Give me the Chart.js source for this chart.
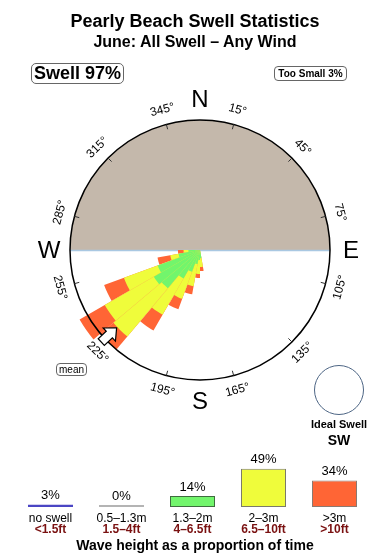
<!DOCTYPE html>
<html>
<head>
<meta charset="utf-8">
<script src="https://cdn.jsdelivr.net/npm/chart.js@4.4.1/dist/chart.umd.min.js"></script>
<style>
  body { margin: 0; background: #fff; font-family: "Liberation Sans", Arial, Helvetica, sans-serif; }
  #page { position: relative; width: 390px; height: 560px; overflow: hidden; }
  canvas { position: absolute; left: 0; }
  .txt { position: absolute; left: 0; width: 390px; text-align: center; font-weight: bold; color: #000; white-space: nowrap; }
  .box { position: absolute; box-sizing: border-box; border: 1px solid #666; border-radius: 5px; text-align: center; white-space: nowrap; color: #000; }
</style>
</head>
<body>
<div id="page">
  <canvas id="rose" width="390" height="440" style="top:0"></canvas>
  <canvas id="heights" width="390" height="120" style="top:440px"></canvas>

  <div class="txt" style="top:10px;font-size:18px;line-height:22px">Pearly Beach Swell Statistics</div>
  <div class="txt" style="top:32px;font-size:16px;line-height:20px">June: All Swell – Any Wind</div>
  <div class="box" style="left:31px;top:63px;width:93px;height:21px;font-size:18px;font-weight:bold;line-height:19px">Swell 97%</div>
  <div class="box" style="left:274px;top:66px;width:73px;height:15px;font-size:10px;font-weight:bold;line-height:13px;border-radius:4px">Too Small 3%</div>
  <div class="box" style="left:56px;top:363px;width:31px;height:13px;font-size:10px;line-height:11px;border-radius:4px">mean</div>
  <div style="position:absolute;left:314px;top:365px;width:50px;height:50px;box-sizing:border-box;border:1.3px solid #4d6584;border-radius:50%"></div>
  <div class="txt" style="left:289px;width:100px;top:417px;font-size:11px;line-height:14px">Ideal Swell</div>
  <div class="txt" style="left:289px;width:100px;top:431px;font-size:14px;line-height:18px">SW</div>
  <div class="txt" style="top:536px;font-size:14px;line-height:18px">Wave height as a proportion of time</div>
</div>

<script>
// 10 degree direction bins, clockwise from north
const binCentres = [5, 15, 25, 35, 45, 55, 65, 75, 85, 95, 105, 115, 125, 135, 145, 155, 165, 175,
  185, 195, 205, 215, 225, 235, 245, 255, 265, 275, 285, 295, 305, 315, 325, 335, 345, 355];

// only these bins carry swell (% of time per height band)
const sectorDirs = [175, 185, 195, 205, 215, 225, 235, 245, 255, 265];
const green  = [0.1, 0.15, 0.3, 0.8, 1.6, 3.7, 4.2, 3.0, 0.7, 0.2];     // 1.3-2m
const yellow = [0.33, 0.7, 1.7, 3.2, 6.7, 15.2, 13.7, 6.7, 0.65, 0.2];  // 2-3m
const orange = [0.22, 0.31, 1.0, 1.9, 4.5, 6.1, 10.7, 5.7, 1.4, 0.32];  // >3m

const meanDir = 227;
const degreeTicks = [15, 45, 75, 105, 135, 165, 195, 225, 255, 285, 315, 345];
const compass = [['N', 0], ['E', 90], ['S', 180], ['W', 270]];

// bottom legend
const legendPct = [3, 0, 14, 49, 34];
const legendMetric = ['no swell', '0.5–1.3m', '1.3–2m', '2–3m', '>3m'];
const legendFeet = ['<1.5ft', '1.5–4ft', '4–6.5ft', '6.5–10ft', '>10ft'];

const FONT = '"Liberation Sans", Arial, Helvetica, sans-serif';

// area-true rose: radius grows with the square root of the percentage
class SqrtRadialScale extends Chart.RadialLinearScale {
  getDistanceFromCenterForValue(value) {
    if (value === null || value === undefined) return NaN;
    const frac = Math.max(0, value - this.min) / (this.max - this.min);
    return this.drawingArea * Math.sqrt(frac);
  }
}
SqrtRadialScale.id = 'sqrtRadial';
Chart.register(SqrtRadialScale);

function onBins(values) {
  return binCentres.map(d => {
    const k = sectorDirs.indexOf(d);
    return k < 0 ? 0 : values[k];
  });
}
const cumGreen = green;
const cumYellow = green.map((g, i) => g + yellow[i]);
const cumOrange = cumYellow.map((y, i) => y + orange[i]);

function polar(s, bearing, r) {
  const a = (bearing - 90) * Math.PI / 180;
  return [s.xCenter + r * Math.cos(a), s.yCenter + r * Math.sin(a)];
}

const roseFrame = {
  id: 'roseFrame',
  beforeDatasetsDraw(chart) {
    const s = chart.scales.r, ctx = chart.ctx;
    const R = s.getDistanceFromCenterForValue(s.max);
    ctx.save();
    ctx.fillStyle = '#c4b8ab';
    ctx.beginPath();
    ctx.arc(s.xCenter, s.yCenter, R, Math.PI, 2 * Math.PI);
    ctx.closePath();
    ctx.fill();
    ctx.strokeStyle = '#a9c8e2';
    ctx.lineWidth = 1.5;
    ctx.beginPath();
    ctx.moveTo(s.xCenter - R, s.yCenter + 0.5);
    ctx.lineTo(s.xCenter + R, s.yCenter + 0.5);
    ctx.stroke();
    ctx.restore();
  },
  afterDatasetsDraw(chart) {
    const s = chart.scales.r, ctx = chart.ctx;
    const R = s.getDistanceFromCenterForValue(s.max);
    ctx.save();
    // outline
    ctx.strokeStyle = '#000';
    ctx.lineWidth = 1.5;
    ctx.beginPath();
    ctx.arc(s.xCenter, s.yCenter, R, 0, 2 * Math.PI);
    ctx.stroke();

    // degree ticks + labels
    ctx.lineWidth = 1;
    ctx.strokeStyle = '#333';
    ctx.fillStyle = '#000';
    ctx.font = '12px ' + FONT;
    ctx.textAlign = 'center';
    ctx.textBaseline = 'middle';
    degreeTicks.forEach(b => {
      const [x1, y1] = polar(s, b, R - 5);
      const [x2, y2] = polar(s, b, R);
      ctx.beginPath(); ctx.moveTo(x1, y1); ctx.lineTo(x2, y2); ctx.stroke();
      const [lx, ly] = polar(s, b, R + 15);
      let rot = (b > 90 && b < 270) ? b - 180 : b;
      if (rot > 180) rot -= 360;
      ctx.save();
      ctx.translate(lx, ly);
      ctx.rotate(rot * Math.PI / 180);
      ctx.fillText(b + '°', 0, 0);
      ctx.restore();
    });

    // compass letters
    ctx.font = '24px ' + FONT;
    compass.forEach(([t, b]) => {
      const [x, y] = polar(s, b, R + 21);
      ctx.fillText(t, x, y + 1);
    });

    // mean direction arrow, pointing inward
    const th = meanDir * Math.PI / 180;
    const d = [Math.sin(th), -Math.cos(th)], p = [Math.cos(th), Math.sin(th)];
    const shape = [[114, 0], [124, 9], [124, 4.5], [135, 4.5], [135, -4.5], [124, -4.5], [124, -9]];
    ctx.beginPath();
    shape.forEach(([u, v], i) => {
      const x = s.xCenter + u * d[0] + v * p[0];
      const y = s.yCenter + u * d[1] + v * p[1];
      if (i === 0) ctx.moveTo(x, y); else ctx.lineTo(x, y);
    });
    ctx.closePath();
    ctx.fillStyle = '#fff';
    ctx.fill();
    ctx.lineWidth = 1.2;
    ctx.strokeStyle = '#000';
    ctx.stroke();
    ctx.restore();
  }
};

new Chart(document.getElementById('rose'), {
  type: 'polarArea',
  data: {
    labels: binCentres,
    datasets: [
      { label: '1.3–2m', data: onBins(cumGreen), backgroundColor: '#72f56c', order: 0 },
      { label: '2–3m', data: onBins(cumYellow), backgroundColor: '#effc3b', order: 1 },
      { label: '>3m', data: onBins(cumOrange), backgroundColor: '#ff6535', order: 2 }
    ]
  },
  options: {
    responsive: false,
    animation: false,
    events: [],
    layout: { padding: { left: 70, right: 60, top: 120, bottom: 60 } },
    elements: { arc: { borderWidth: 0 } },
    scales: {
      r: {
        type: 'sqrtRadial',
        min: 0,
        max: 25,
        startAngle: 0,
        ticks: { display: false },
        grid: { display: false },
        angleLines: { display: false },
        pointLabels: { display: false }
      }
    },
    plugins: { legend: { display: false }, tooltip: { enabled: false } }
  },
  plugins: [roseFrame]
});

const heightLabels = {
  id: 'heightLabels',
  afterDatasetsDraw(chart) {
    const ctx = chart.ctx;
    const meta = chart.getDatasetMeta(0);
    const base = chart.scales.y.getPixelForValue(0);
    ctx.save();
    ctx.textAlign = 'center';
    ctx.textBaseline = 'middle';
    meta.data.forEach((bar, i) => {
      ctx.fillStyle = '#000';
      ctx.font = '13px ' + FONT;
      ctx.fillText(legendPct[i] + '%', bar.x, Math.min(bar.y, base - 2) - 9);
      ctx.font = '12px ' + FONT;
      ctx.fillText(legendMetric[i], bar.x, base + 12);
      ctx.fillStyle = '#7a1111';
      ctx.font = 'bold 12px ' + FONT;
      ctx.fillText(legendFeet[i], bar.x, base + 23);
    });
    ctx.restore();
  }
};

new Chart(document.getElementById('heights'), {
  type: 'bar',
  data: {
    labels: legendMetric,
    datasets: [{
      data: legendPct,
      backgroundColor: ['#4b46c4', '#b4b4b4', '#72f56c', '#effc3b', '#ff6535'],
      borderColor: ['#4b46c4', '#b4b4b4', '#3f6b3f', '#7a7a6a', '#8a7a72'],
      borderWidth: [0, 0, 1, 1, 1],
      borderSkipped: false,
      minBarLength: 2,
      barPercentage: 0.634,
      categoryPercentage: 1
    }]
  },
  options: {
    responsive: false,
    animation: false,
    events: [],
    layout: { padding: { left: 15, right: 20, top: 21, bottom: 53 } },
    scales: {
      x: { display: false },
      y: { display: false, min: 0, max: 59 }
    },
    plugins: { legend: { display: false }, tooltip: { enabled: false } }
  },
  plugins: [heightLabels]
});
</script>
</body>
</html>
